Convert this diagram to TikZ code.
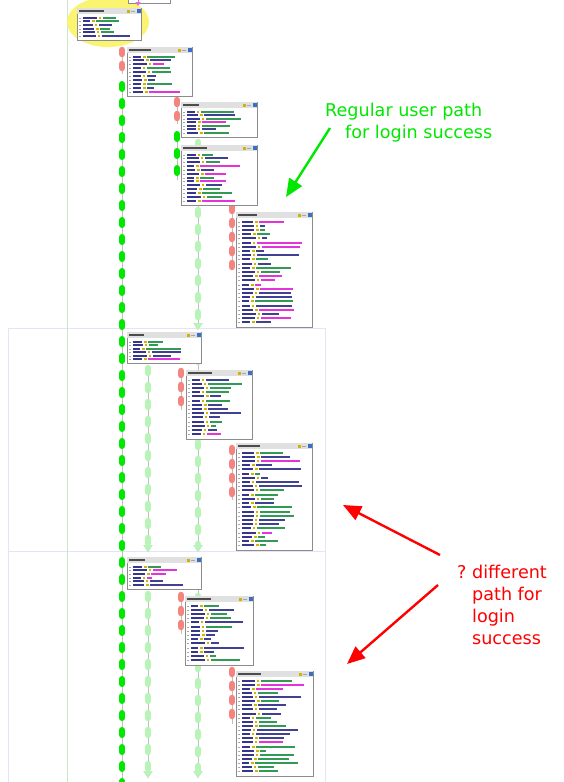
\documentclass[tikz,border=0pt]{standalone}
\usepackage{fontspec}
\setmainfont{DejaVu Sans}
\usetikzlibrary{arrows.meta}
\definecolor{dashgreen}{RGB}{0,232,0}
\definecolor{dashpale}{RGB}{184,244,184}
\definecolor{dashred}{RGB}{245,132,126}
\definecolor{hiyellow}{RGB}{250,244,112}
\definecolor{lavender}{RGB}{228,228,246}
\definecolor{paleline}{RGB}{200,232,200}
\definecolor{navy}{RGB}{18,18,120}
\definecolor{valgreen}{RGB}{0,128,40}
\definecolor{valmag}{RGB}{222,0,210}
\definecolor{valgold}{RGB}{210,180,0}
\definecolor{iconblue}{RGB}{60,110,200}

\begin{document}
\begin{tikzpicture}[x=1pt,y=-1pt,
	win/.style={draw=black!45,fill=white,line width=.6pt,inner sep=0pt,anchor=north west},
	greendash/.style={dashgreen,line width=6pt,line cap=round,dash pattern=on 5pt off 12pt,
		preaction={draw=black!25,line width=.6pt,solid,line cap=butt}},
	paledash/.style={greendash,dashpale,line width=6.5pt},
	reddash/.style={greendash,dashred,line width=6.5pt,dash pattern=on 4pt off 10pt},
	note/.style={font=\fontsize{17.6}{22}\selectfont,align=left,inner sep=0pt,anchor=north west},
	callout/.style={line width=2.4pt,-{Triangle[length=18pt,width=15pt]}}]
		\useasboundingbox[fill=white] (0,0) rectangle (563,782);
		% frames and highlight
		\draw[lavender,line width=1pt] (8,328) rectangle (325,551);
		\draw[lavender,line width=1pt] (8,551) rectangle (325,800);
		\draw[paleline,line width=1pt] (67,0) -- (67,782);
		\fill[hiyellow] (108,22) ellipse [x radius=41, y radius=25];
		% tracks
		\draw[paledash,-{Triangle[length=7pt,width=9pt]}] (198,142) -- (198,330);
		\draw[paledash,-{Triangle[length=7pt,width=9pt]}] (198,340) -- (198,552);
		\draw[paledash,-{Triangle[length=7pt,width=9pt]}] (198,562) -- (198,778);
		\draw[paledash,-{Triangle[length=7pt,width=9pt]}] (148,368) -- (148,552);
		\draw[paledash,-{Triangle[length=7pt,width=9pt]}] (148,594) -- (148,778);
		\draw[reddash] (122,50) -- (122,74);
		\draw[greendash] (122,84) -- (122,790);
		\draw[reddash] (177,100) -- (177,124);
		\draw[greendash] (177,134) -- (177,180);
		\draw[reddash] (232,207) -- (232,270);
		\draw[reddash] (181,371) -- (181,410);
		\draw[reddash] (232,448) -- (232,500);
		\draw[reddash] (181,595) -- (181,634);
		\draw[reddash] (232,670) -- (232,724);
		% windows
		\node[win,minimum width=42pt,minimum height=23pt] (w0) at (128,-20) {};
		\draw[valmag!60,line width=1pt,-{Triangle[length=4pt,width=5pt]}] (138,-3) -- (138,6);
		\pgfmathsetseed{11}
		\pgfmathdeclarerandomlist{vals}{{valgreen}{navy}{valmag}{valgreen}{navy}}
		\foreach \n/\x/\y/\w/\h/\m in {w1/77/8/64/32/6, w2/127/47/65/49/10, w3/181/102/76/35/7,
			w4/181/145/76/60/13, w5/236/212/76/115/25, w6/127/332/74/31/6, w7/186/370/66/69/14,
			w8/236/443/76/107/23, w9/127/557/74/32/6, w10/185/596/68/69/14, w11/236/671/77/105/23}{
			\node[win,minimum width=\w pt,minimum height=\h pt] (\n) at (\x,\y) {};
			\fill[black!12] ([shift={(.3,.3)}]\n.north west) rectangle ([shift={(-.3,6)}]\n.north east);
			\pgfmathsetmacro\tw{14+16*rnd}
			\fill[black!70] ([shift={(2,2)}]\n.north west) rectangle ++(\tw,2);
			\fill[valgold] ([shift={(-15,1.5)}]\n.north east) rectangle ++(3,3);
			\fill[black!35] ([shift={(-10.5,2.5)}]\n.north east) rectangle ++(4,1);
			\fill[iconblue] ([shift={(-5,1)}]\n.north east) rectangle ++(4,4);
			\pgfmathsetmacro\sp{(\h-10)/\m}
			\foreach \k in {1,...,\m}{
				\pgfmathsetmacro\ly{8.5+(\k-1)*\sp}
				\pgfmathsetmacro\la{7+7*rnd}
				\pgfmathsetmacro\lb{5+(\w-\la-26)*rnd}
				\pgfmathrandomitem\vc{vals}
				\fill[black!35] ([shift={(2,\ly+1)}]\n.north west) rectangle ++(2,.6);
				\fill[navy!85] ([shift={(6,\ly)}]\n.north west) rectangle ++(\la,2);
				\fill[valgold] ([shift={(8+\la,\ly)}]\n.north west) rectangle ++(2.5,2);
				\fill[\vc!80] ([shift={(12+\la,\ly)}]\n.north west) rectangle ++(\lb,2);
			}
		}
		% notes
		\node[note,text=dashgreen] (regular) at (325,103) {Regular user path\\\hspace{20pt}for login success};
		\coordinate (regtip) at (286,197);
		\draw[callout,dashgreen] ([shift={(5,25)}]regular.north west) -- (regtip);
		\node[note,text=red] (other) at (457,565) {?\ different\\\phantom{?\ }path for\\\phantom{?\ }login\\\phantom{?\ }success};
		\coordinate (othertipa) at (343,505);
		\coordinate (othertipb) at (347,664);
		\draw[callout,red] ([shift={(-17,-10)}]other.north west) -- (othertipa);
		\draw[callout,red] ([shift={(-19,20)}]other.north west) -- (othertipb);
	\end{tikzpicture}
\end{document}
